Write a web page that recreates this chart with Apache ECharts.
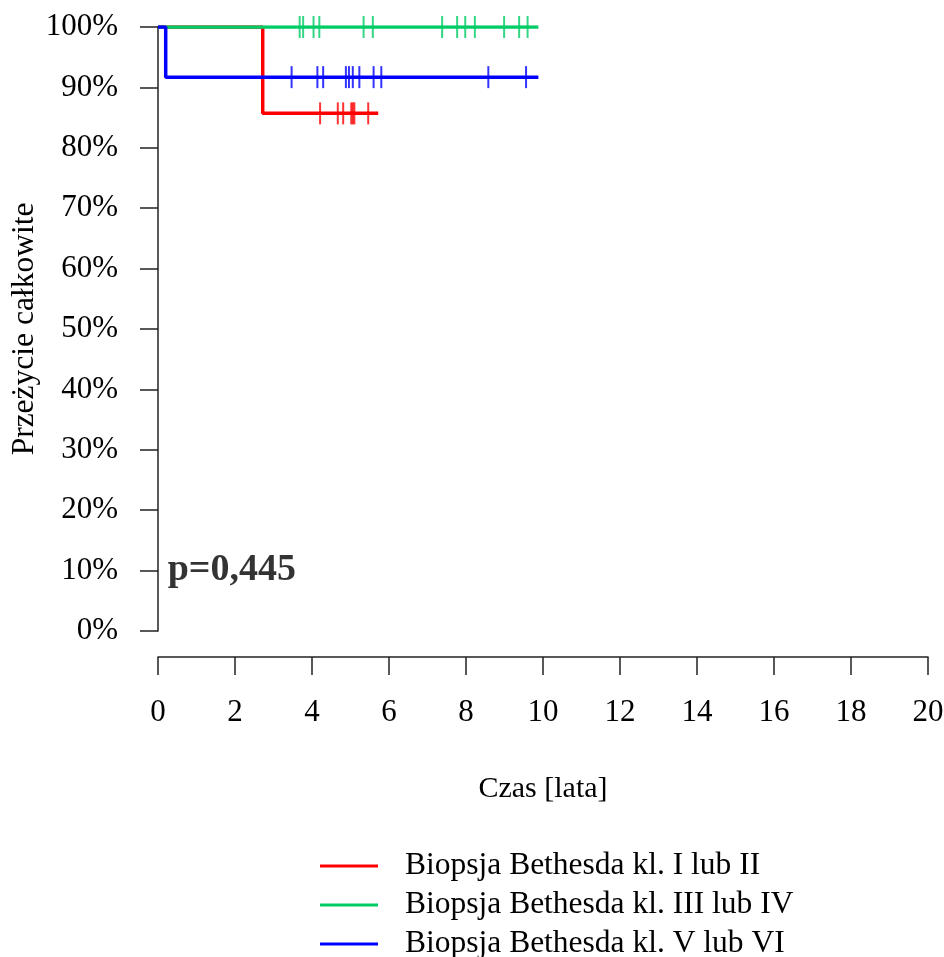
<!DOCTYPE html>
<html>
<head>
<meta charset="utf-8">
<script src="https://cdn.jsdelivr.net/npm/echarts@6/dist/echarts.min.js"></script>
<style>html,body{margin:0;padding:0;background:#fff}#c{width:944px;height:957px}</style>
</head>
<body>
<div id="c"></div>
<script>
// ---- data ----
var seriesNames = ['Biopsja Bethesda kl. I lub II', 'Biopsja Bethesda kl. III lub IV', 'Biopsja Bethesda kl. V lub VI'];
var seriesColors = ['#FF0000', '#00CC66', '#0000FF'];

var redTimes = [0, 2.72, 5.72];
var redSurv = [100, 85.7, 85.7];
var redCensor = [4.21, 4.67, 4.81, 5.02, 5.06, 5.10, 5.46];

var greenTimes = [0, 9.88];
var greenSurv = [100, 100];
var greenCensor = [3.68, 3.77, 4.04, 4.19, 5.34, 5.58, 7.38, 7.77, 7.98, 8.23, 8.99, 9.38, 9.60];

var blueTimes = [0, 0.2, 9.88];
var blueSurv = [100, 91.7, 91.7];
var blueCensor = [3.47, 4.14, 4.29, 4.88, 4.96, 5.06, 5.23, 5.60, 5.80, 8.58, 9.56];

var xTicks = [0, 2, 4, 6, 8, 10, 12, 14, 16, 18, 20];
var yTicks = [0, 10, 20, 30, 40, 50, 60, 70, 80, 90, 100];
var pLabel = 'p=0,445';
var pPos = [0.25, 10];

// ---- build ----
function pairs(t, s) { return t.map(function (v, i) { return [v, s[i]]; }); }
function levelAt(t, s, x) { var v = s[0]; for (var i = 0; i < t.length; i++) { if (t[i] <= x) v = s[i]; } return v; }
function censorPts(c, t, s) { return c.map(function (x) { return [x, levelAt(t, s, x)]; }); }

var groups = [
  [redTimes, redSurv, redCensor],
  [greenTimes, greenSurv, greenCensor],
  [blueTimes, blueSurv, blueCensor]
];
var lineZ = [1, 3, 4];
var series = [];
groups.forEach(function (g, i) {
  series.push({
    name: seriesNames[i], type: 'line', step: 'end', data: pairs(g[0], g[1]),
    showSymbol: false, symbol: 'none', z: lineZ[i],
    lineStyle: { color: seriesColors[i], width: 3.5 }, itemStyle: { color: seriesColors[i] },
    animation: false
  });
});
groups.forEach(function (g, i) {
  series.push({
    name: 'censor' + i, type: 'scatter', data: censorPts(g[2], g[0], g[1]),
    symbol: 'rect', symbolSize: [2, 22], z: 6,
    itemStyle: { color: seriesColors[i] }, animation: false
  });
});
series.push({
  name: 'p', type: 'scatter', data: [pPos], symbolSize: 0, z: 7,
  label: { show: true, position: 'right', distance: 0, formatter: pLabel,
    fontFamily: 'Liberation Serif', fontWeight: 'bold', fontSize: 38, color: '#000' },
  animation: false
});

var fam = 'Liberation Serif';
var chart = echarts.init(document.getElementById('c'), null, { renderer: 'canvas' });
chart.setOption({
  backgroundColor: '#fff',
  animation: false,
  grid: { left: 158, right: 16, top: 27, bottom: 326, containLabel: false, outerBoundsMode: 'none' },
  xAxis: {
    type: 'value', min: xTicks[0], max: xTicks[xTicks.length - 1], interval: 2,
    offset: 26,
    name: 'Czas [lata]', nameLocation: 'middle', nameGap: 117, nameMoveOverlap: false,
    nameTextStyle: { fontFamily: fam, fontSize: 30, color: '#000' },
    axisLine: { show: true, onZero: false, lineStyle: { color: '#222', width: 1.5 } },
    axisTick: { show: true, length: 18, lineStyle: { color: '#222', width: 1.5 } },
    axisLabel: { margin: 40, fontFamily: fam, fontSize: 31, color: '#000' },
    splitLine: { show: false }
  },
  yAxis: {
    type: 'value', min: yTicks[0], max: yTicks[yTicks.length - 1], interval: 10,
    name: 'Przeżycie całkowite', nameLocation: 'middle', nameGap: 117, nameMoveOverlap: false,
    nameTextStyle: { fontFamily: fam, fontSize: 31.5, color: '#000' },
    axisLine: { show: true, onZero: false, lineStyle: { color: '#222', width: 1.5 } },
    axisTick: { show: true, length: 18, lineStyle: { color: '#222', width: 1.5 } },
    axisLabel: { margin: 40, fontFamily: fam, fontSize: 31, color: '#000', formatter: '{value}%' },
    splitLine: { show: false }
  },
  legend: {
    data: seriesNames, orient: 'vertical', left: 320, top: 850, padding: 0, height: 200,
    icon: 'rect', itemWidth: 58, itemHeight: 3, itemGap: 7,
    textStyle: { fontFamily: fam, fontSize: 31.5, color: '#000', lineHeight: 32, padding: [0, 0, 0, 22] },
    selectedMode: false
  },
  series: series
});
</script>
</body>
</html>
